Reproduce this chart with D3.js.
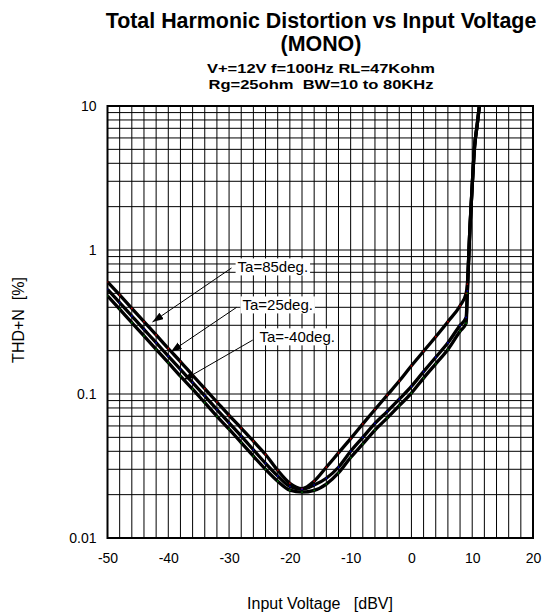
<!DOCTYPE html>
<html>
<head>
<meta charset="utf-8">
<script src="https://cdn.jsdelivr.net/npm/d3@7"></script>
<style>
  body { margin: 0; background: #fff; }
  svg { display: block; }
  text { font-family: Arial, "Liberation Sans", sans-serif; fill: #000; white-space: pre; }
</style>
</head>
<body>
<svg id="chart" width="549" height="612"></svg>
<script>
// Input level (dBV) at which THD+N was measured
const inputDbv = [-50, -48, -46, -44, -42, -40, -38, -36, -34, -32, -30, -28, -26, -24, -22,
                  -20, -18, -16, -14, -12, -10, -8, -6, -4, -2, 0, 2, 4, 6, 8,
                  9, 9.2, 9.6, 10, 10.4, 10.8, 11.2];

// THD+N (%) for each ambient temperature
const thdTa85 = [0.60, 0.487, 0.393, 0.318, 0.257, 0.207, 0.168, 0.135, 0.109, 0.088, 0.071, 0.058, 0.047, 0.038, 0.0295,
                 0.0240, 0.0220, 0.0248, 0.031, 0.039, 0.049, 0.062, 0.078, 0.098, 0.123, 0.157, 0.198, 0.25, 0.318, 0.41,
                 0.50, 0.58, 1.35, 2.8, 5.3, 7.3, 10.2];
const thdTa25 = [0.533, 0.431, 0.348, 0.281, 0.227, 0.183, 0.148, 0.120, 0.097, 0.078, 0.063, 0.051, 0.041, 0.033, 0.027,
                 0.0228, 0.0218, 0.0233, 0.026, 0.031, 0.040, 0.050, 0.0625, 0.0755, 0.092, 0.113, 0.143, 0.18, 0.227, 0.30,
                 0.34, 0.52, 1.35, 2.8, 5.3, 7.3, 10.2];
const thdTaM40 = [0.48, 0.388, 0.313, 0.253, 0.204, 0.165, 0.133, 0.108, 0.087, 0.070, 0.057, 0.046, 0.037, 0.030, 0.0248,
                  0.0215, 0.0208, 0.0214, 0.0237, 0.0283, 0.0362, 0.045, 0.0562, 0.068, 0.083, 0.1015, 0.129, 0.162, 0.204, 0.273,
                  0.31, 0.50, 1.35, 2.8, 5.3, 7.3, 10.2];

const seriesLabels = ["Ta=85deg.", "Ta=25deg.", "Ta=-40deg."];

// Axis ticks
const xTicks = [-50, -40, -30, -20, -10, 0, 10, 20];
const yTicks = [0.01, 0.1, 1, 10];

const titleLines = ["Total Harmonic Distortion vs Input Voltage", "(MONO)"];
const subtitleLines = ["V+=12V f=100Hz RL=47Kohm", "Rg=25ohm  BW=10 to 80KHz"];
const xTitle = "Input Voltage   [dBV]";
const yTitle = "THD+N  [%]";

// ---- layout ----
const plot = { left: 107.5, right: 533, top: 106, bottom: 538 };
const svg = d3.select("#chart");

const x = d3.scaleLinear().domain([-50, 20]).range([plot.left, plot.right]);
const y = d3.scaleLog().domain([0.01, 10]).range([plot.bottom, plot.top]);

svg.append("rect").attr("width", 549).attr("height", 612).attr("fill", "#fff");

// Titles
const cx = 321;
svg.append("g").selectAll("text").data(titleLines).join("text")
  .attr("x", cx).attr("y", (d, i) => 28 + i * 23)
  .attr("text-anchor", "middle")
  .style("font-size", "21.4px").style("font-weight", "bold")
  .text(d => d);
// Condition lines: compact bold text, slightly widened
const subWidths = [228, 225];
svg.append("g").selectAll("text").data(subtitleLines).join("text")
  .attr("x", cx).attr("y", (d, i) => 73 + i * 16)
  .attr("text-anchor", "middle")
  .attr("textLength", (d, i) => subWidths[i])
  .attr("lengthAdjust", "spacingAndGlyphs")
  .style("font-size", "13.5px").style("font-weight", "bold")
  .text(d => d);

// Grid: every 2 dB across, 1-2-...-9 per decade down
const grid = svg.append("g").attr("stroke", "#000").attr("stroke-width", 1).attr("fill", "none");
const xGrid = d3.range(-48, 20, 2);
grid.selectAll("line.v").data(xGrid).join("line").attr("class", "v")
  .attr("x1", d => x(d)).attr("x2", d => x(d))
  .attr("y1", plot.top).attr("y2", plot.bottom);
const yGrid = [];
[0.01, 0.1, 1].forEach(dec => { for (let k = 1; k <= 9; k++) if (!(dec === 0.01 && k === 1)) yGrid.push(dec * k); });
grid.selectAll("line.h").data(yGrid).join("line").attr("class", "h")
  .attr("x1", plot.left).attr("x2", plot.right)
  .attr("y1", d => y(d)).attr("y2", d => y(d));

// Plot border
svg.append("rect")
  .attr("x", plot.left).attr("y", plot.top)
  .attr("width", plot.right - plot.left).attr("height", plot.bottom - plot.top)
  .attr("fill", "none").attr("stroke", "#000").attr("stroke-width", 2);

// Axes (labels only)
const xAxis = svg.append("g").attr("transform", `translate(0,${plot.bottom})`)
  .call(d3.axisBottom(x).tickValues(xTicks).tickSize(0).tickPadding(15).tickFormat(d => d));
const yAxis = svg.append("g").attr("transform", `translate(${plot.left},0)`)
  .call(d3.axisLeft(y).tickValues(yTicks).tickSize(0).tickPadding(11).tickFormat(d3.format("~g")));
[xAxis, yAxis].forEach(a => {
  a.select(".domain").remove();
  a.attr("font-family", null).attr("font-size", null);
  a.selectAll("text").style("font-size", "14px").attr("fill", "#000");
});

// Axis titles
svg.append("text").attr("x", 320).attr("y", 609).attr("text-anchor", "middle")
  .style("font-size", "16px").text(xTitle);
svg.append("text").attr("transform", "translate(24,320) rotate(-90)").attr("text-anchor", "middle")
  .style("font-size", "16px").text(yTitle);

// Curves
svg.append("clipPath").attr("id", "plotClip").append("rect")
  .attr("x", plot.left).attr("y", plot.top)
  .attr("width", plot.right - plot.left).attr("height", plot.bottom - plot.top);

const series = [thdTa85, thdTa25, thdTaM40];
const dotColors = ["#d00000", "#0000d0", "#008000"];
const line = d3.line().x(d => x(d[0])).y(d => y(d[1])).curve(d3.curveMonotoneX);
const curves = svg.append("g").attr("clip-path", "url(#plotClip)");
series.forEach((vals, i) => {
  const pts = inputDbv.map((v, j) => [v, vals[j]]);
  curves.append("path").datum(pts).attr("d", line)
    .attr("fill", "none").attr("stroke", "#000").attr("stroke-width", 3.3)
    .attr("stroke-linejoin", "round");
});
series.forEach((vals, i) => {
  const pts = inputDbv.map((v, j) => [v, vals[j]]).filter(p => p[1] < 1);
  curves.append("g").selectAll("circle").data(pts).join("circle")
    .attr("cx", d => x(d[0])).attr("cy", d => y(d[1])).attr("r", 0.9)
    .attr("fill", dotColors[i]).attr("opacity", 0.8);
});

// Callouts: text position, arrow start and arrow tip in data units
const callouts = [
  { text: seriesLabels[0], at: [-28.6, 0.762], from: [-29.6, 0.75], to: [-42.6, 0.316] },
  { text: seriesLabels[1], at: [-27.8, 0.415], from: [-28.75, 0.40], to: [-39.6, 0.196] },
  { text: seriesLabels[2], at: [-25.0, 0.249], from: [-26.1, 0.237], to: [-37.5, 0.125] }
];
svg.append("defs").append("marker")
  .attr("id", "arrowHead").attr("viewBox", "0 -4 11 8")
  .attr("markerUnits", "userSpaceOnUse").attr("markerWidth", 11).attr("markerHeight", 8)
  .attr("refX", 11).attr("refY", 0).attr("orient", "auto")
  .append("path").attr("d", "M0,-3.8L11,0L0,3.8Z").attr("fill", "#000");

const co = svg.append("g");
callouts.forEach(c => {
  co.append("line")
    .attr("x1", x(c.from[0])).attr("y1", y(c.from[1]))
    .attr("x2", x(c.to[0])).attr("y2", y(c.to[1]))
    .attr("stroke", "#000").attr("stroke-width", 1)
    .attr("marker-end", "url(#arrowHead)");
  const bg = co.append("rect").attr("fill", "#fff");
  const t = co.append("text")
    .attr("x", x(c.at[0])).attr("y", y(c.at[1]))
    .attr("dy", "0.36em")
    .style("font-size", "15px").text(c.text);
  const b = t.node().getBBox();
  bg.attr("x", b.x - 2).attr("y", b.y).attr("width", b.width + 4).attr("height", b.height);
});
</script>
</body>
</html>
